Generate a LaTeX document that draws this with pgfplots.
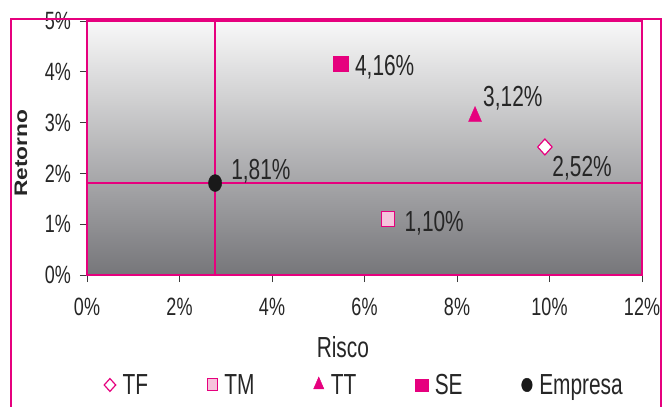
\documentclass[border=0pt]{standalone}
\usepackage{fontspec}
\setmainfont[FakeStretch=0.72]{Liberation Sans}
\newfontfamily\plainsans{Liberation Sans}
\usepackage{graphicx}
\usepackage{pgfplots}
\pgfplotsset{compat=1.18}
\definecolor{rubine}{RGB}{230,0,126}
\definecolor{tmfill}{RGB}{246,196,220}
\definecolor{tickgray}{RGB}{60,60,60}
\definecolor{bgtop}{RGB}{248,248,248}
\definecolor{bgbot}{RGB}{118,118,122}
\begin{document}
\begin{tikzpicture}
\useasboundingbox (0pt,0pt) rectangle (662pt,407pt);
\begin{axis}[
  at={(87pt,132pt)}, anchor=south west,
  scale only axis, width=555pt, height=254pt,
  xmin=0, xmax=12, ymin=0, ymax=5,
  xtick={0,2,4,6,8,10,12}, ytick={0,1,2,3,4,5},
  xticklabel={\pgfmathprintnumber{\tick}\%},
  yticklabel={\pgfmathprintnumber{\tick}\%},
  /pgf/number format/assume math mode=true,
  tick label style={font=\fontsize{25}{30}\selectfont, text=black!85},
  xticklabel style={inner sep=0pt, yshift=-16pt},
  yticklabel style={inner sep=0pt, xshift=-9pt},
  tick align=outside, major tick length=7pt,
  xtick pos=bottom, ytick pos=left,
  tick style={tickgray, line width=0.8pt},
  axis line style={rubine, line width=1.2pt},
  axis background/.style={shade, top color=bgtop, bottom color=bgbot},
  xlabel={Risco},
  ylabel={\scalebox{1}[0.8]{\fontsize{22.7}{26}\selectfont\plainsans\bfseries Retorno}},
  every axis x label/.style={at={(axis description cs:0.461,-0.283)}, anchor=center, font=\fontsize{29}{34}\selectfont, text=black!85},
  every axis y label/.style={at={(axis description cs:-0.119,0.48)}, anchor=center, rotate=90, text=black!85},
  legend columns=5,
  legend style={draw=none, fill=none, at={(axis description cs:0.5,-0.433)}, anchor=center,
    font=\fontsize{29}{34}\selectfont, text=black!85,
    /tikz/every odd column/.append style={column sep=5pt},
    /tikz/every even column/.append style={column sep=57pt}},
  legend image post style={scale=0.8},
  every node near coord/.append style={font=\fontsize{29}{34}\selectfont, text=black!85, anchor=base west, inner sep=0pt},
  clip=false,
]
\addplot[draw=rubine, line width=1.4pt, mark=none, forget plot] coordinates {(2.77,0) (2.77,5)};
\addplot[draw=rubine, line width=1.4pt, mark=none, forget plot] coordinates {(0,1.81) (12,1.81)};

\addplot[only marks, mark=diamond*, mark size=8pt, draw=rubine, fill=white, line width=1.2pt,
  mark options={xscale=1.2},
  nodes near coords={2,52\%}, every node near coord/.append style={xshift=7pt, yshift=-30pt}]
  coordinates {(9.90,2.52)};
\addlegendentry{TF}
\addplot[only marks, mark=square*, mark size=7.5pt, draw=rubine, fill=tmfill, line width=1pt,
  mark options={xscale=0.85},
  nodes near coords={1,10\%}, every node near coord/.append style={xshift=16pt, yshift=-12pt}]
  coordinates {(6.51,1.10)};
\addlegendentry{TM}
\addplot[only marks, mark=triangle*, mark size=10pt, draw=rubine, fill=rubine,
  mark options={xscale=0.75},
  nodes near coords={3,12\%}, every node near coord/.append style={xshift=8pt, yshift=10pt}]
  coordinates {(8.39,3.12)};
\addlegendentry{TT}
\addplot[only marks, mark=square*, mark size=7.7pt, draw=rubine, fill=rubine,
  nodes near coords={4,16\%}, every node near coord/.append style={xshift=14pt, yshift=-12pt}]
  coordinates {(5.49,4.16)};
\addlegendentry{SE}
\addplot[only marks, mark=*, mark size=8.5pt, draw=black!90, fill=black!90,
  mark options={xscale=0.78},
  nodes near coords={1,81\%}, every node near coord/.append style={xshift=16pt, yshift=4pt}]
  coordinates {(2.77,1.81)};
\addlegendentry{Empresa}
\end{axis}
\draw[rubine, line width=2pt] (11pt,-5pt) -- (11pt,387.5pt) -- (661pt,387.5pt) -- (661pt,-5pt);
\end{tikzpicture}
\end{document}
